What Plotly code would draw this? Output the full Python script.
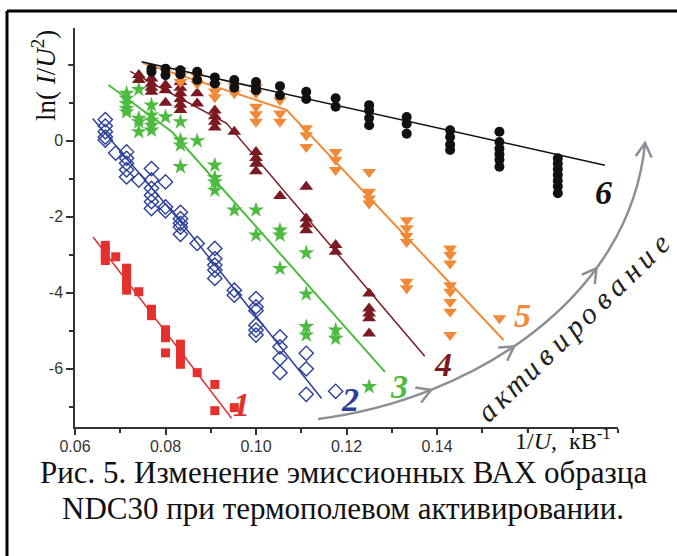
import math
import plotly.graph_objects as go

# ---------------- data ----------------
# series 1 (red squares)
x1 = [0.0667, 0.0667, 0.0667, 0.0667, 0.0690, 0.0714, 0.0714, 0.0714, 0.0714, 0.0714,
      0.0741, 0.0769, 0.0769, 0.0800, 0.0800, 0.0800, 0.0833, 0.0833, 0.0833, 0.0833,
      0.0870, 0.0909, 0.0909, 0.0952]
y1 = [-2.75, -2.9, -3.02, -3.15, -3.05, -3.35, -3.5, -3.65, -3.8, -3.93,
      -3.97, -4.43, -4.6, -4.97, -5.18, -5.58, -5.35, -5.52, -5.7, -5.88,
      -6.1, -6.41, -7.1, -7.02]
# series 2 (blue open diamonds)
x2 = [0.0667, 0.0667, 0.0667, 0.0667, 0.0667, 0.0690,
      0.0714, 0.0714, 0.0714, 0.0714, 0.0714, 0.0741,
      0.0769, 0.0769, 0.0769, 0.0769, 0.0769, 0.0769,
      0.0800, 0.0800, 0.0800,
      0.0833, 0.0833, 0.0833, 0.0833, 0.0833, 0.0870,
      0.0909, 0.0909, 0.0909, 0.0909, 0.0909, 0.0952, 0.0952,
      0.1000, 0.1000, 0.1000, 0.1000, 0.1000, 0.1000,
      0.1053, 0.1053, 0.1053, 0.1053, 0.1111, 0.1111, 0.1111, 0.1176]
y2 = [0.56, 0.39, 0.24, 0.1, 0.02, -0.32,
      -0.29, -0.46, -0.59, -0.76, -0.95, -1.03,
      -0.73, -1.03, -1.25, -1.43, -1.6, -1.78,
      -1.08, -1.74, -1.84,
      -1.88, -2.05, -2.17, -2.27, -2.46, -2.7,
      -2.83, -3.1, -3.27, -3.4, -3.62, -3.93, -4.06,
      -4.15, -4.37, -4.47, -4.85, -4.98, -5.11,
      -5.16, -5.42, -5.73, -6.1, -5.59, -6.0, -6.67, -6.59]
# series 3 (green stars)
x3 = [0.0714, 0.0714, 0.0714, 0.0714, 0.0714,
      0.0741, 0.0741, 0.0741, 0.0741,
      0.0769, 0.0769, 0.0769, 0.0769, 0.0769, 0.0800,
      0.0833, 0.0833, 0.0833, 0.0833, 0.0870,
      0.0909, 0.0909, 0.0909, 0.0909, 0.0952,
      0.1000, 0.1000, 0.1053, 0.1053, 0.1053,
      0.1111, 0.1111, 0.1111, 0.1111, 0.1176, 0.1176, 0.1250]
y3 = [1.25, 1.12, 0.98, 0.85, 0.76,
      1.35, 0.59, 0.5, 0.24,
      0.94, 0.68, 0.54, 0.41, 0.28, 0.63,
      0.5, 0.02, -0.11, -0.68, 0.0,
      -0.64, -0.97, -1.08, -1.3, -1.82,
      -1.82, -2.48, -2.35, -2.48, -3.36,
      -2.95, -4.03, -4.89, -5.11, -4.98, -5.2, -6.47]
# series 4 (dark red triangles)
x4 = [0.0741, 0.0741, 0.0769, 0.0769, 0.0769, 0.0769,
      0.0800, 0.0800, 0.0800,
      0.0833, 0.0833, 0.0833, 0.0833, 0.0833, 0.0833,
      0.0870, 0.0870, 0.0909, 0.0909, 0.0909, 0.0909, 0.0952,
      0.1000, 0.1000, 0.1000, 0.1000, 0.1053,
      0.1111, 0.1111, 0.1111, 0.1111, 0.1176, 0.1176,
      0.1250, 0.1250, 0.1250, 0.1250, 0.1250]
y4 = [1.73, 1.6, 1.64, 1.5, 1.4, 1.29,
      1.47, 1.33, 1.0,
      1.55, 1.4, 1.25, 1.1, 0.95, 0.81,
      1.25, 0.98, 0.8, 0.65, 0.5, 0.35, 0.24,
      -0.29, -0.45, -0.6, -0.8, -1.45,
      -1.21, -2.04, -2.2, -2.35, -2.74, -2.92,
      -4.02, -4.41, -4.54, -4.67, -5.07]
# series 5 (orange down-triangles)
x5 = [0.0833, 0.0833, 0.0833, 0.0870, 0.0870, 0.0909, 0.0909, 0.0909, 0.0952, 0.0952,
      0.1000, 0.1000, 0.1000, 0.1000, 0.1000, 0.1053, 0.1053, 0.1053,
      0.1111, 0.1111, 0.1111, 0.1176, 0.1176, 0.1176,
      0.1250, 0.1250, 0.1250, 0.1250,
      0.1333, 0.1333, 0.1333, 0.1333, 0.1333, 0.1333,
      0.1429, 0.1429, 0.1429, 0.1429, 0.1429, 0.1429, 0.1429, 0.1429, 0.1538]
y5 = [1.86, 1.7, 1.55, 1.7, 1.5, 1.45, 1.3, 1.15, 1.45, 1.25,
      1.42, 1.25, 0.9, 0.7, 0.5, 1.07, 0.72, 0.5,
      0.33, 0.15, -0.16, -0.29, -0.5, -0.77,
      -0.82, -1.34, -1.52, -1.65,
      -2.09, -2.3, -2.5, -2.66, -3.71, -3.88,
      -2.83, -3.0, -3.23, -3.8, -3.97, -4.24, -4.5, -5.11, -4.67]
# series 6 (black circles)
x6 = [0.0769, 0.0769, 0.0800, 0.0800, 0.0833, 0.0833, 0.0870, 0.0870,
      0.0909, 0.0909, 0.0952, 0.0952, 0.1000, 0.1000, 0.1000,
      0.1053, 0.1053, 0.1111, 0.1111, 0.1176, 0.1176,
      0.1250, 0.1250, 0.1250, 0.1250, 0.1333, 0.1333, 0.1333,
      0.1429, 0.1429, 0.1429, 0.1429,
      0.1538, 0.1538, 0.1538, 0.1538, 0.1538, 0.1538,
      0.1667, 0.1667, 0.1667, 0.1667, 0.1667, 0.1667, 0.1667]
y6 = [1.9, 1.82, 1.9, 1.73, 1.86, 1.75, 1.82, 1.6,
      1.67, 1.51, 1.6, 1.4, 1.55, 1.4, 1.33,
      1.44, 1.2, 1.29, 1.1, 1.12, 0.9,
      0.94, 0.8, 0.6, 0.41, 0.63, 0.45, 0.19,
      0.28, 0.1, -0.1, -0.24,
      0.24, -0.03, -0.2, -0.35, -0.5, -0.68,
      -0.46, -0.6, -0.75, -0.9, -1.05, -1.2, -1.38]

# fitted lines (break points)
fx1 = [0.0640, 0.0946];          fy1 = [-2.53, -7.30]
fx2 = [0.0639, 0.0836, 0.1145];  fy2 = [0.59, -2.17, -6.78]
fx3 = [0.0674, 0.0814, 0.1285];  fy3 = [1.47, 0.24, -6.08]
fx4 = [0.0722, 0.0935, 0.1373];  fy4 = [1.83, 0.46, -5.67]
fx5 = [0.0750, 0.1068, 0.1547];  fy5 = [2.05, 0.81, -5.24]
fx6 = [0.0747, 0.1771];          fy6 = [2.08, -0.64]

curve_labels = ["1", "2", "3", "4", "5", "6"]
label_x = [0.0967, 0.1208, 0.1316, 0.1413, 0.1590, 0.1769]
label_y = [-6.95, -6.80, -6.47, -5.88, -4.59, -1.36]

x_tickvals = [0.06, 0.08, 0.10, 0.12, 0.14]
x_ticktext = ["0.06", "0.08", "0.10", "0.12", "0.14"]
x_unlabelled_ticks = [0.16, 0.18]
y_tickvals = [-6, -4, -2, 0]
y_ticktext = ["-6", "-4", "-2", "0"]
y_unlabelled_ticks = [2]

# ---------------- styles ----------------
C_RED = "#e5312e"
C_BLUE = "#2c3f9c"
C_GREEN = "#4cbb3f"
C_DRED = "#7c1a22"
C_ORANGE = "#f08a38"
C_BLACK = "#111111"
C_GRAY = "#8b9097"
C_AXIS = "#333333"
SERIF = "Liberation Serif, Times New Roman, serif"

W, H = 677, 556
ML, MR, MT, MB = 75, 59, 28, 129
PW, PH = W - ML - MR, H - MT - MB


def pp(px, py):
    """pixel -> paper coordinates"""
    return (px - ML) / PW, (H - MB - py) / PH


fig = go.Figure()

series = [
    (x1, y1, fx1, fy1, C_RED, dict(symbol="square", size=9, color=C_RED), 1.5),
    (x2, y2, fx2, fy2, C_BLUE, dict(symbol="diamond-open", size=11, color=C_BLUE,
                                    line=dict(width=1.4, color=C_BLUE)), 1.5),
    (x3, y3, fx3, fy3, C_GREEN, dict(symbol="star", size=12, color=C_GREEN,
                                     line=dict(width=0)), 2),
    (x4, y4, fx4, fy4, C_DRED, dict(symbol="triangle-up", size=12, color=C_DRED,
                                    line=dict(width=0)), 1.5),
    (x5, y5, fx5, fy5, C_ORANGE, dict(symbol="triangle-down", size=12, color=C_ORANGE,
                                      line=dict(width=0)), 2),
    (x6, y6, fx6, fy6, C_BLACK, dict(symbol="circle", size=10, color=C_BLACK,
                                     line=dict(width=0)), 1.5),
]
for xs, ys, lx, ly, col, mk, lw in series:
    fig.add_trace(go.Scatter(x=xs, y=ys, mode="markers", marker=mk,
                             showlegend=False, hoverinfo="skip"))
    fig.add_trace(go.Scatter(x=lx, y=ly, mode="lines", line=dict(color=col, width=lw),
                             showlegend=False, hoverinfo="skip"))

label_colors = [C_RED, C_BLUE, C_GREEN, C_DRED, C_ORANGE, C_BLACK]
annotations = []
for t, lxv, lyv, c in zip(curve_labels, label_x, label_y, label_colors):
    annotations.append(dict(x=lxv, y=lyv, xref="x", yref="y", text="<b><i>%s</i></b>" % t,
                            showarrow=False, font=dict(family=SERIF, size=34, color=c),
                            xanchor="center", yanchor="middle"))

# axis titles
ax_, ay_ = pp(44, 76)
annotations.append(dict(x=ax_, y=ay_, xref="paper", yref="paper",
                        text="ln( <i>I</i>/<i>U</i><sup>2</sup>)", textangle=-90,
                        showarrow=False, font=dict(family=SERIF, size=27, color="#111"),
                        xanchor="center", yanchor="middle"))
bx_, by_ = pp(563, 439)
annotations.append(dict(x=bx_, y=by_, xref="paper", yref="paper",
                        text="1/<i>U</i>,  кВ<sup>-1</sup>",
                        showarrow=False, font=dict(family=SERIF, size=24, color="#111"),
                        xanchor="center", yanchor="middle"))

# caption
c1x, c1y = pp(343, 472)
c2x, c2y = pp(343, 508)
annotations.append(dict(x=c1x, y=c1y, xref="paper", yref="paper",
                        text="Рис. 5. Изменение эмиссионных ВАХ образца",
                        showarrow=False, font=dict(family=SERIF, size=31, color="#111"),
                        xanchor="center", yanchor="middle"))
annotations.append(dict(x=c2x, y=c2y, xref="paper", yref="paper",
                        text="NDC30 при термополевом активировании.",
                        showarrow=False, font=dict(family=SERIF, size=31, color="#111"),
                        xanchor="center", yanchor="middle"))

# rotated word along the arrow
word = "активирование"
sx, sy, ex, ey = 486, 411, 659, 243
n = len(word)
for i, ch in enumerate(word):
    f = i / (n - 1)
    px_ = sx + (ex - sx) * f
    py_ = sy + (ey - sy) * f
    qx, qy = pp(px_, py_)
    annotations.append(dict(x=qx, y=qy, xref="paper", yref="paper", text="<i>%s</i>" % ch,
                            textangle=-44, showarrow=False,
                            font=dict(family=SERIF, size=30, color="#222"),
                            xanchor="center", yanchor="middle"))

# arrow curve (cubic bezier in pixel space)
P0, P1, P2, P3 = (318, 419), (470, 400), (630, 300), (645, 143)


def bez(t):
    a = (1 - t) ** 3
    b = 3 * (1 - t) ** 2 * t
    c = 3 * (1 - t) * t ** 2
    d = t ** 3
    return (a * P0[0] + b * P1[0] + c * P2[0] + d * P3[0],
            a * P0[1] + b * P1[1] + c * P2[1] + d * P3[1])


def bezd(t):
    return (3 * (1 - t) ** 2 * (P1[0] - P0[0]) + 6 * (1 - t) * t * (P2[0] - P1[0]) + 3 * t ** 2 * (P3[0] - P2[0]),
            3 * (1 - t) ** 2 * (P1[1] - P0[1]) + 6 * (1 - t) * t * (P2[1] - P1[1]) + 3 * t ** 2 * (P3[1] - P2[1]))


shapes = []
q = [pp(*p) for p in (P0, P1, P2, P3)]
shapes.append(dict(type="path", xref="paper", yref="paper",
                   path="M %f,%f C %f,%f %f,%f %f,%f" % (q[0] + q[1] + q[2] + q[3]),
                   line=dict(color=C_GRAY, width=2.5)))
for t in (0.25, 0.45, 0.70, 1.0):
    cx, cy = bez(t)
    dx, dy = bezd(t)
    ang = math.atan2(dy, dx)
    arm = 16
    pts = []
    for s in (+1, -1):
        a2 = ang + math.pi + s * math.radians(30)
        pts.append((cx + arm * math.cos(a2), cy + arm * math.sin(a2)))
    a_ = pp(*pts[0]); c_ = pp(cx, cy); b_ = pp(*pts[1])
    shapes.append(dict(type="path", xref="paper", yref="paper",
                       path="M %f,%f L %f,%f L %f,%f" % (a_ + c_ + b_),
                       line=dict(color=C_GRAY, width=2.5)))

# outer frame: top and left edges
t0 = pp(7, 11)
t1 = pp(677, 11)
b0 = pp(7, 556)
shapes.append(dict(type="line", xref="paper", yref="paper", x0=t0[0], y0=t0[1], x1=t1[0], y1=t1[1],
                   line=dict(color="#000", width=3)))
shapes.append(dict(type="line", xref="paper", yref="paper", x0=t0[0], y0=t0[1], x1=b0[0], y1=b0[1],
                   line=dict(color="#000", width=3)))

# unlabelled major ticks
for xv in x_unlabelled_ticks:
    shapes.append(dict(type="line", xref="x", yref="paper", x0=xv, x1=xv, y0=0, y1=-6.0 / PH,
                       line=dict(color=C_AXIS, width=1.5)))
for yv in y_unlabelled_ticks:
    shapes.append(dict(type="line", xref="paper", yref="y", x0=0, x1=-7.0 / PW, y0=yv, y1=yv,
                       line=dict(color=C_AXIS, width=1.5)))

axis_common = dict(showgrid=False, zeroline=False, showline=True, linecolor=C_AXIS, linewidth=1.5,
                   ticks="outside", tickcolor=C_AXIS, tickwidth=1.5,
                   tickfont=dict(family="Liberation Sans, Arial, sans-serif", size=16, color="#333"))

fig.update_layout(
    width=W, height=H,
    margin=dict(l=ML, r=MR, t=MT, b=MB),
    paper_bgcolor="white", plot_bgcolor="white",
    xaxis=dict(range=[0.06, 0.18], tickmode="array", tickvals=x_tickvals, ticktext=x_ticktext,
               ticklen=6, ticklabelstandoff=-2,
               minor=dict(ticks="outside", ticklen=4, dtick=0.01, tick0=0.06,
                          tickcolor=C_AXIS, tickwidth=1.5),
               **axis_common),
    yaxis=dict(range=[-7.53, 2.97], tickmode="array", tickvals=y_tickvals, ticktext=y_ticktext,
               ticklen=7, minor=dict(ticks="outside", ticklen=4, dtick=1, tick0=0,
                                     tickcolor=C_AXIS, tickwidth=1.5),
               **axis_common),
    annotations=annotations,
    shapes=shapes,
    showlegend=False,
)

fig.write_html("out.html")
